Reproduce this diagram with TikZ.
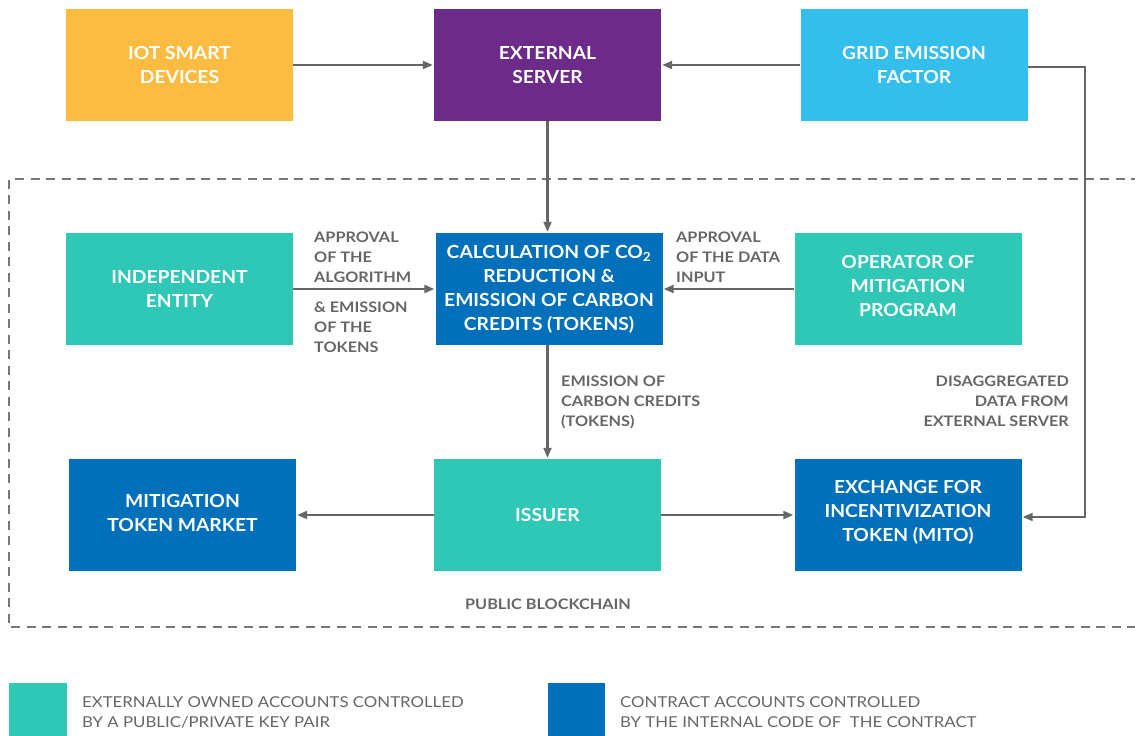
\documentclass[tikz,border=0pt]{standalone}
\usepackage{fontspec}
\setmainfont{Lato}
\usetikzlibrary{arrows.meta}
\definecolor{cyell}{HTML}{FCBC41}
\definecolor{cpurp}{HTML}{6C2B88}
\definecolor{clblue}{HTML}{33BEEC}
\definecolor{cteal}{HTML}{2FC8B7}
\definecolor{cblue}{HTML}{0070BB}
\definecolor{cgray}{HTML}{666666}
\definecolor{cdash}{HTML}{777777}
\newfontfamily\boxfont[FakeStretch=1.07]{Lato}
\newfontfamily\lblfont[FakeStretch=1.12]{Lato}
\newfontfamily\legfont[FakeStretch=1.12]{Lato}
\tikzset{
  box/.style={minimum width=227pt, minimum height=112pt, inner sep=0pt, text=white,
    font=\boxfont\fontsize{18}{24}\selectfont\bfseries, align=center},
  boxtext/.style={inner sep=0pt, text=white, font=\boxfont\fontsize{18}{24}\selectfont\bfseries, align=center},
  lbl/.style={text=cgray, font=\lblfont\fontsize{14.5}{19.8}\selectfont\bfseries, inner sep=0pt},
  conn/.style={draw=cgray, line width=2.1pt, shorten >=1pt, -{Triangle[length=10pt,width=8pt]}},
  legtxt/.style={text=cgray, font=\legfont\fontsize{15}{20}\selectfont, align=left, anchor=west, inner sep=0pt},
}
\begin{document}
\begin{tikzpicture}[x=1pt,y=-1pt]
\useasboundingbox (0,0) rectangle (1135,736);
% dashed region
\draw[cdash, line width=2.8pt, dash pattern=on 9pt off 6.5pt] (1140,179) -- (9,179) -- (9,627) -- (1140,627);
% boxes
\node[box, fill=cyell] (iot) at (179.5,65) {IOT SMART\\DEVICES};
\node[box, fill=cpurp] (ext) at (547.5,65) {EXTERNAL\\SERVER};
\node[box, fill=clblue] (grid) at (914,65) {GRID EMISSION\\FACTOR};
\node[box, fill=cteal] (ind) at (179.5,289) {INDEPENDENT\\ENTITY};
\node[box, fill=cblue] (calc) at (549,289) {CALCULATION OF CO\textsubscript{2}\\REDUCTION \&\\EMISSION OF CARBON\\CREDITS (TOKENS)};
\node[box, fill=cteal] (op) at (908,289) {};
\node[boxtext] (opt) at ([yshift=3pt]op.center) {OPERATOR OF\\MITIGATION\\PROGRAM};
\node[box, fill=cblue] (mkt) at (182.5,515) {};
\node[boxtext] (mktt) at ([yshift=2pt]mkt.center) {MITIGATION\\TOKEN MARKET};
\node[box, fill=cteal] (iss) at (547.5,515) {ISSUER};
\node[box, fill=cblue] (exch) at (908,515) {};
\node[boxtext] (excht) at ([yshift=3pt]exch.center) {EXCHANGE FOR\\INCENTIVIZATION\\TOKEN (MITO)};
% connectors
\draw[conn] (iot.east) -- (ext.west);
\draw[conn] (grid.west) -- (ext.west -| ext.east);
\draw[conn] (ext.south) -- (calc.north -| ext.south);
\draw[conn] (ind.east) -- (calc.west);
\draw[conn] (op.west) -- (calc.east);
\draw[conn] (calc.south -| ext.south) -- (iss.north);
\draw[conn] (iss.west) -- (mkt.east);
\draw[conn] (iss.east) -- (exch.west);
\coordinate (c1) at (1085,67);
\coordinate (c2) at (1085,517);
\draw[conn] (grid.east |- c1) -- (c1) -- (c2) -- (exch.east |- c2);
% labels
\node[lbl, anchor=north west, align=left] (l1) at (314,232) {APPROVAL\\OF THE\\ALGORITHM};
\node[lbl, anchor=north west, align=left] (l2) at (314,302) {\& EMISSION\\OF THE\\TOKENS};
\node[lbl, anchor=north west, align=left] (l3) at (676,232) {APPROVAL\\OF THE DATA\\INPUT};
\node[lbl, anchor=north west, align=left] (l4) at (561,376) {EMISSION OF\\CARBON CREDITS\\(TOKENS)};
\node[lbl, anchor=north east, align=right] (l5) at (1069,376) {DISAGGREGATED\\DATA FROM\\EXTERNAL SERVER};
\node[lbl, anchor=north] (l6) at (548,599) {PUBLIC BLOCKCHAIN};
% legend
\fill[cteal] (9,683) rectangle (67,740);
\fill[cblue] (548,683) rectangle (605,740);
\node[legtxt] (lg1) at (82,712) {EXTERNALLY OWNED ACCOUNTS CONTROLLED\\BY A PUBLIC/PRIVATE KEY PAIR};
\node[legtxt] (lg2) at (620,712) {CONTRACT ACCOUNTS CONTROLLED\\BY THE INTERNAL CODE OF\ \ THE CONTRACT};
\end{tikzpicture}
\end{document}
